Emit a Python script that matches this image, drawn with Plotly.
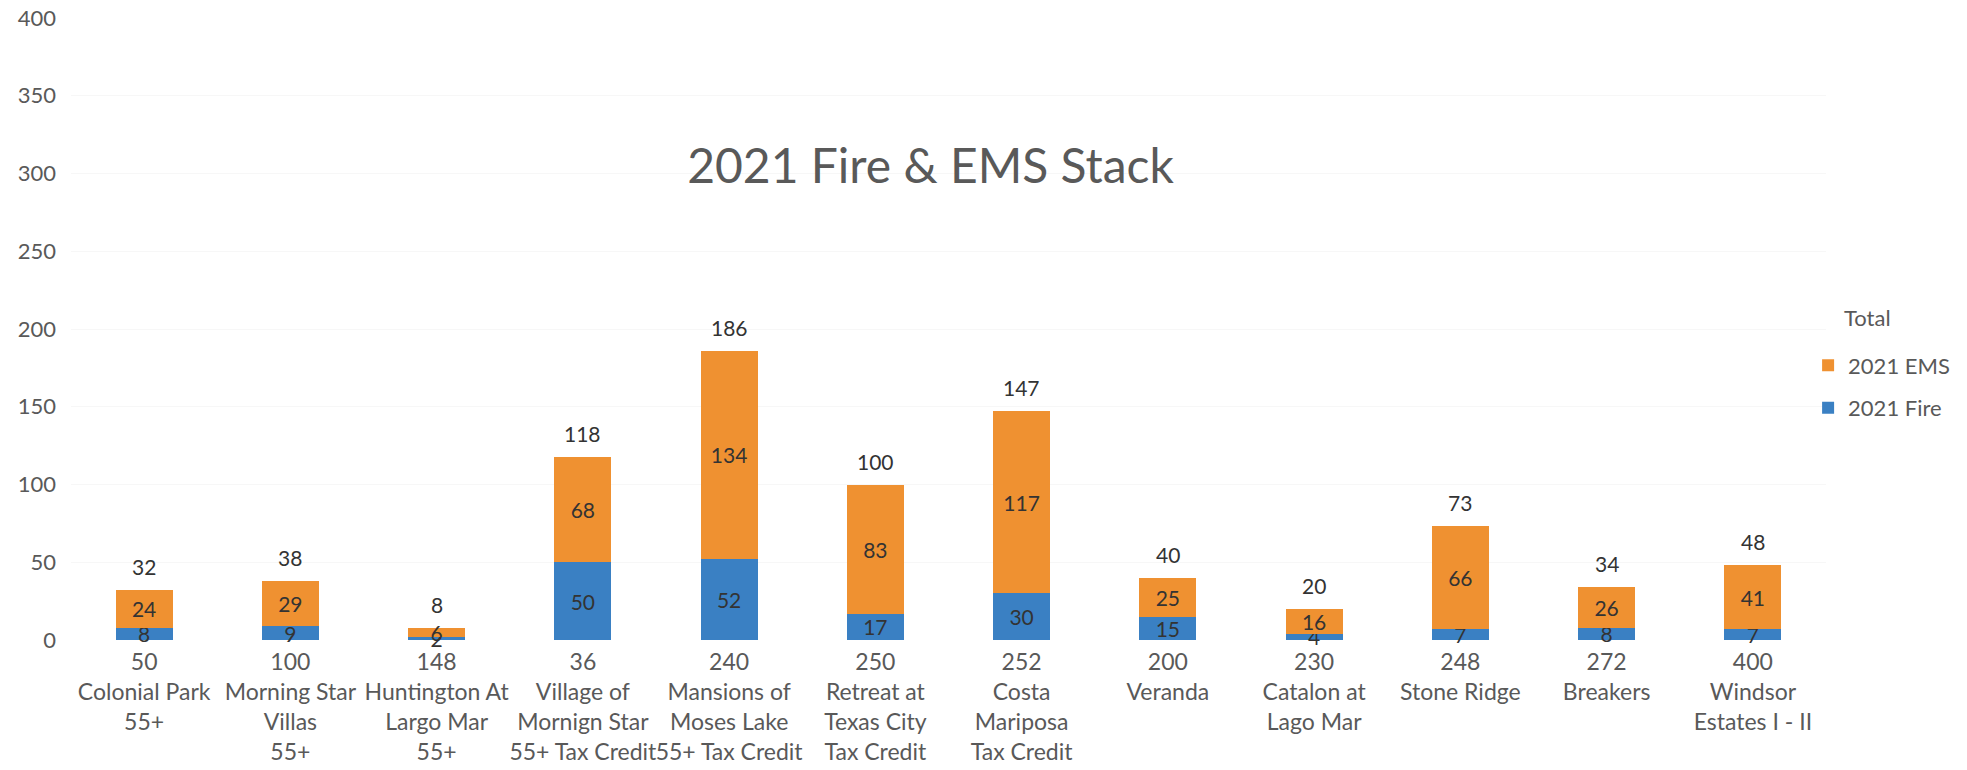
import plotly.graph_objects as go

units = ["50", "100", "148", "36", "240", "250", "252", "200", "230", "248", "272", "400"]
names = [
    "Colonial Park<br>55+",
    "Morning Star<br>Villas<br>55+",
    "Huntington At<br>Largo Mar<br>55+",
    "Village of<br>Mornign Star<br>55+ Tax Credit",
    "Mansions of<br>Moses Lake<br>55+ Tax Credit",
    "Retreat at<br>Texas City<br>Tax Credit",
    "Costa<br>Mariposa<br>Tax Credit",
    "Veranda",
    "Catalon at<br>Lago Mar",
    "Stone Ridge",
    "Breakers",
    "Windsor<br>Estates I - II",
]
fire = [8, 9, 2, 50, 52, 17, 30, 15, 4, 7, 8, 7]
ems = [24, 29, 6, 68, 134, 83, 117, 25, 16, 66, 26, 41]
totals = [32, 38, 8, 118, 186, 100, 147, 40, 20, 73, 34, 48]
y_ticks = [0, 50, 100, 150, 200, 250, 300, 350, 400]

cats = [u + "<br>" + n for u, n in zip(units, names)]

FONT = "Lato"
GRAY = "#595959"
LABEL = "#333333"

fig = go.Figure()
fig.add_trace(go.Bar(
    x=cats, y=fire, name="2021 Fire", legendgroup="fire", legendrank=2,
    marker=dict(color="#3a80c3", line=dict(width=0)),
    text=[str(v) for v in fire], textposition="inside", insidetextanchor="middle",
    textangle=0, insidetextfont=dict(family=FONT, size=21, color=LABEL),
    cliponaxis=False,
))
fig.add_trace(go.Bar(
    x=cats, y=ems, name="2021 EMS", legendgroup="ems", legendrank=1,
    marker=dict(color="#ef9131", line=dict(width=0)),
    text=[str(v) for v in ems], textposition="inside", insidetextanchor="middle",
    textangle=0, insidetextfont=dict(family=FONT, size=21, color=LABEL),
    cliponaxis=False,
))

for c, t in zip(cats, totals):
    fig.add_annotation(x=c, y=t, text=str(t), showarrow=False, yanchor="bottom",
                       yshift=9, font=dict(family=FONT, size=21, color=LABEL))

fig.add_annotation(text="Total", xref="paper", yref="paper", x=1.009, y=0.519,
                   xanchor="left", yanchor="middle", showarrow=False,
                   font=dict(family=FONT, size=22, color=GRAY))

fig.update_layout(
    width=1967, height=770,
    barmode="stack", bargap=0.61,
    paper_bgcolor="white", plot_bgcolor="white",
    margin=dict(l=63, r=149, t=10, b=138, autoexpand=False),
    font=dict(family=FONT, color=GRAY, size=22),
    uniformtext=dict(minsize=21, mode="show"),
    title=dict(text="2021 Fire & EMS Stack", x=0.469, y=0.795, xanchor="center",
               yanchor="middle", xref="container", yref="container",
               font=dict(family=FONT, size=48, color=GRAY)),
    legend=dict(traceorder="grouped", x=0.9898, xanchor="left", y=0.407,
                yanchor="middle", font=dict(family=FONT, size=22, color=GRAY),
                itemwidth=30, tracegroupgap=11, bgcolor="rgba(0,0,0,0)"),
    showlegend=True,
)
fig.update_xaxes(type="category", showline=False, showgrid=False, zeroline=False,
                 ticks="", tickangle=0, tickfont=dict(family=FONT, size=23, color=GRAY),
                 ticklabelstandoff=6, automargin=False, ticklabeloverflow="allow")
fig.update_yaxes(range=[0, 400], tickvals=y_ticks, showline=False, showgrid=True,
                 gridcolor="#f7f7f7", zeroline=False, ticks="",
                 tickfont=dict(family=FONT, size=22, color=GRAY), ticklabelstandoff=14,
                 automargin=False, ticklabeloverflow="allow")

fig.write_html("out.html")
